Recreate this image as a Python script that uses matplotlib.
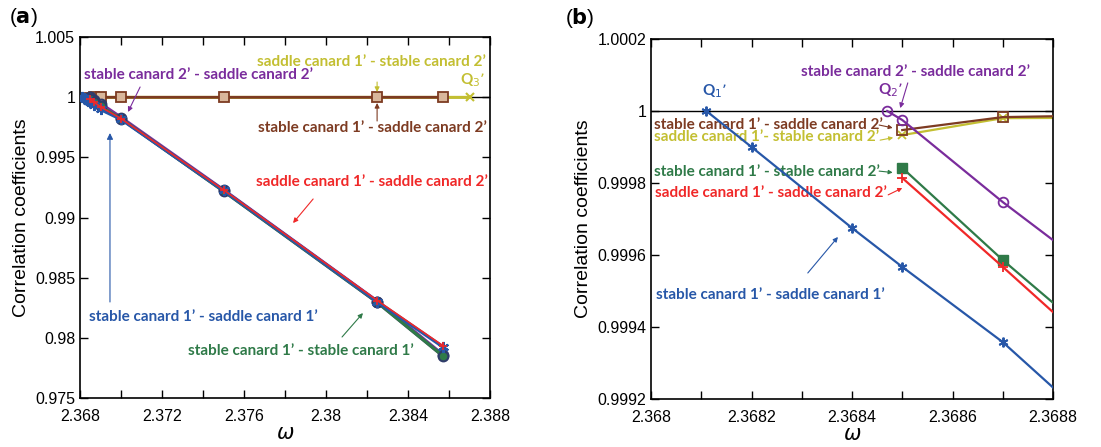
import numpy as np
import matplotlib
matplotlib.use("Agg")
import matplotlib.pyplot as plt

# ---- data ----
# stable canard 1' - saddle canard 1'
w_blue = [2.36811, 2.3682, 2.3684, 2.3685, 2.3687, 2.369, 2.370, 2.375, 2.3825, 2.3857]
c_blue = [1.00000, 0.99990, 0.999675, 0.999567, 0.999358, 0.99898, 0.99816, 0.99225, 0.98300, 0.97925]
# stable canard 2' - saddle canard 2'
w_purple = [2.36847, 2.3685, 2.3687, 2.369, 2.370, 2.375, 2.3825, 2.3857]
c_purple = [1.00000, 0.999975, 0.999747, 0.99943, 0.99827, 0.99225, 0.98300, 0.97855]
# stable canard 1' - stable canard 2'
w_green = [2.3685, 2.3687, 2.369, 2.370, 2.375, 2.3825, 2.3857]
c_green = [0.999842, 0.999586, 0.99923, 0.99820, 0.99220, 0.98295, 0.97850]
# saddle canard 1' - saddle canard 2'
w_red = [2.3685, 2.3687, 2.369, 2.370, 2.375, 2.3825, 2.3857]
c_red = [0.999814, 0.999567, 0.99919, 0.99822, 0.99230, 0.98310, 0.97935]
# stable canard 1' - saddle canard 2'
w_brown = [2.3685, 2.3687, 2.369, 2.370, 2.375, 2.3825, 2.3857]
c_brown = [0.999947, 0.999983, 0.99999, 0.99999, 0.99999, 0.99999, 0.99999]
# saddle canard 1' - stable canard 2'
w_yellow = [2.3685, 2.3687, 2.369, 2.370, 2.375, 2.3825, 2.3857, 2.387]
c_yellow = [0.999933, 0.99998, 0.999982, 0.999983, 0.999983, 0.999983, 0.999983, 0.999983]

BLUE = "#2757a8"
PURPLE = "#7a2c9c"
GREEN = "#2f7a48"
RED = "#f02828"
BROWN = "#7d3b22"
YELLOW = "#c3bf32"

plt.rcParams["font.family"] = ["Liberation Sans", "DejaVu Sans"]
LBL = dict(family=["Lato", "DejaVu Sans"], weight="bold", fontsize=11)


def arrow(ax, start, end, color, ms=7):
    ax.annotate("", xy=end, xytext=start,
                arrowprops=dict(arrowstyle="-|>", color=color, lw=0.8, mutation_scale=ms,
                                shrinkA=0, shrinkB=0))


fig = plt.figure(figsize=(11.01, 4.47), dpi=100)
axa = fig.add_axes([0.0727, 0.1096, 0.3724, 0.8076])
axb = fig.add_axes([0.5913, 0.1074, 0.3651, 0.8054])

ast = (6, 2, 0)

# ---------------- panel (a) ----------------
axa.axhline(1.0, color="black", lw=1.0, zorder=1)
axa.plot(w_yellow, c_yellow, color=YELLOW, lw=2.2, marker="x", ms=6, mew=1.5, zorder=2)
axa.plot(w_brown, c_brown, color=BROWN, lw=2.0, marker="s", ms=7, mfc="#d9b79b", mec=BROWN, mew=1.3, zorder=3)
axa.plot(w_purple, c_purple, color=PURPLE, lw=3.0, marker="o", ms=7, mfc="none", mec="#2f3b6a", mew=1.5, zorder=3)
axa.plot(w_green, c_green, color=GREEN, lw=2.4, marker="o", ms=7, mfc=GREEN, mec="#2f3b6a", mew=1.5, zorder=4)
axa.plot(w_blue, c_blue, color=BLUE, lw=2.4, marker=ast, ms=8, mew=1.6, zorder=5)
axa.plot(w_red, c_red, color=RED, lw=1.2, marker="+", ms=6, mew=1.2, zorder=6)

axa.set_xlim(2.368, 2.388)
axa.set_ylim(0.975, 1.005)
axa.set_xticks(np.arange(2.368, 2.3881, 0.002), minor=True)
axa.set_xticks([2.368, 2.372, 2.376, 2.38, 2.384, 2.388])
axa.set_xticklabels(["2.368", "2.372", "2.376", "2.38", "2.384", "2.388"])
axa.set_yticks([0.975, 0.98, 0.985, 0.99, 0.995, 1.0, 1.005])
axa.set_yticklabels(["0.975", "0.98", "0.985", "0.99", "0.995", "1", "1.005"])

# annotations panel (a)
axa.text(2.38220, 1.00292, "saddle canard 1’ - stable canard 2’", color=YELLOW, ha="center", va="center", **LBL)
arrow(axa, (2.38249, 1.00126), (2.38249, 1.00043), YELLOW)
axa.text(2.38717, 1.00143, "Q$_3$’", color=YELLOW, ha="center", va="center", **LBL)
axa.text(2.37380, 1.00184, "stable canard 2’ - saddle canard 2’", color=PURPLE, ha="center", va="center", **LBL)
arrow(axa, (2.37093, 1.000845), (2.37034, 0.99877), PURPLE)
axa.text(2.38224, 0.99744, "stable canard 1’ - saddle canard 2’", color=BROWN, ha="center", va="center", **LBL)
arrow(axa, (2.38249, 0.99802), (2.38249, 0.99952), BROWN)
axa.text(2.38224, 0.99295, "saddle canard 1’ - saddle canard 2’", color=RED, ha="center", va="center", **LBL)
arrow(axa, (2.37937, 0.99154), (2.37839, 0.98954), RED)
axa.text(2.37400, 0.98173, "stable canard 1’ - saddle canard 1’", color=BLUE, ha="center", va="center", **LBL)
arrow(axa, (2.36946, 0.98298), (2.36946, 0.99702), BLUE, ms=9)
axa.text(2.37878, 0.97890, "stable canard 1’ - stable canard 1’", color=GREEN, ha="center", va="center", **LBL)
arrow(axa, (2.38078, 0.98007), (2.38180, 0.98206), GREEN)

# ---------------- panel (b) ----------------
axb.axhline(1.0, color="black", lw=1.0, zorder=1)
axb.plot(w_yellow, c_yellow, color=YELLOW, lw=1.6, marker="x", ms=6, mew=1.3, zorder=2)
axb.plot(w_brown, c_brown, color=BROWN, lw=1.6, marker="s", ms=7, mfc="none", mec=BROWN, mew=1.3, zorder=3)
axb.plot(w_green, c_green, color=GREEN, lw=1.6, marker="s", ms=7, mfc=GREEN, mec=GREEN, zorder=3)
axb.plot(w_red, c_red, color=RED, lw=1.6, marker="+", ms=7, mew=1.3, zorder=3)
axb.plot(w_blue, c_blue, color=BLUE, lw=1.6, marker=ast, ms=7, mew=1.4, zorder=4)
axb.plot(w_purple, c_purple, color=PURPLE, lw=1.6, marker="o", ms=7, mfc="none", mec=PURPLE, mew=1.3, zorder=4)

axb.set_xlim(2.368, 2.3688)
axb.set_ylim(0.9992, 1.0002)
axb.set_xticks(np.arange(2.368, 2.36881, 0.0001), minor=True)
axb.set_xticks([2.368, 2.3682, 2.3684, 2.3686, 2.3688])
axb.set_xticklabels(["2.368", "2.3682", "2.3684", "2.3686", "2.3688"])
axb.set_yticks([0.9992, 0.9994, 0.9996, 0.9998, 1.0, 1.0002])
axb.set_yticklabels(["0.9992", "0.9994", "0.9996", "0.9998", "1", "1.0002"])

axb.text(2.368527, 1.000108, "stable canard 2’ - saddle canard 2’", color=PURPLE, ha="center", va="center", **LBL)
axb.text(2.368476, 1.000058, "Q$_2$’", color=PURPLE, ha="center", va="center", **LBL)
arrow(axb, (2.368511, 1.000078), (2.368496, 1.000008), PURPLE)
axb.text(2.368127, 1.000056, "Q$_1$’", color=BLUE, ha="center", va="center", **LBL)
axb.text(2.368006, 0.999961, "stable canard 1’ - saddle canard 2’", color=BROWN, ha="left", va="center", **LBL)
arrow(axb, (2.368454, 0.999961), (2.368481, 0.999953), BROWN, ms=6)
axb.text(2.368006, 0.999928, "saddle canard 1’- stable canard 2’", color=YELLOW, ha="left", va="center", **LBL)
arrow(axb, (2.368456, 0.999919), (2.368482, 0.999926), YELLOW, ms=6)
axb.text(2.368006, 0.999831, "stable canard 1’ - stable canard 2’", color=GREEN, ha="left", va="center", **LBL)
arrow(axb, (2.368454, 0.999833), (2.368481, 0.999829), GREEN, ms=6)
axb.text(2.368008, 0.999772, "saddle canard 1’ - saddle canard 2’", color=RED, ha="left", va="center", **LBL)
arrow(axb, (2.368472, 0.999767), (2.368500, 0.999786), RED, ms=6)
axb.text(2.368237, 0.999489, "stable canard 1’ - saddle canard 1’", color=BLUE, ha="center", va="center", **LBL)
arrow(axb, (2.368312, 0.999550), (2.368372, 0.999650), BLUE)

for ax in (axa, axb):
    ax.tick_params(which="both", direction="in", top=True, right=True, labelsize=11.5)
    ax.tick_params(which="major", length=6, width=1)
    ax.tick_params(which="minor", length=6, width=1)
    ax.tick_params(axis="x", which="major", pad=8)
    for s in ax.spines.values():
        s.set_linewidth(1.2)
    ax.set_xlabel(r"$\omega$", fontsize=15, labelpad=0)
    ax.set_ylabel("Correlation coefficients", fontsize=14, labelpad=4)

fig.text(0.008, 0.96, r"($\mathbf{a}$)", fontsize=15, va="center")
fig.text(0.513, 0.96, r"($\mathbf{b}$)", fontsize=15, va="center")

fig.savefig("out.png", dpi=100)
